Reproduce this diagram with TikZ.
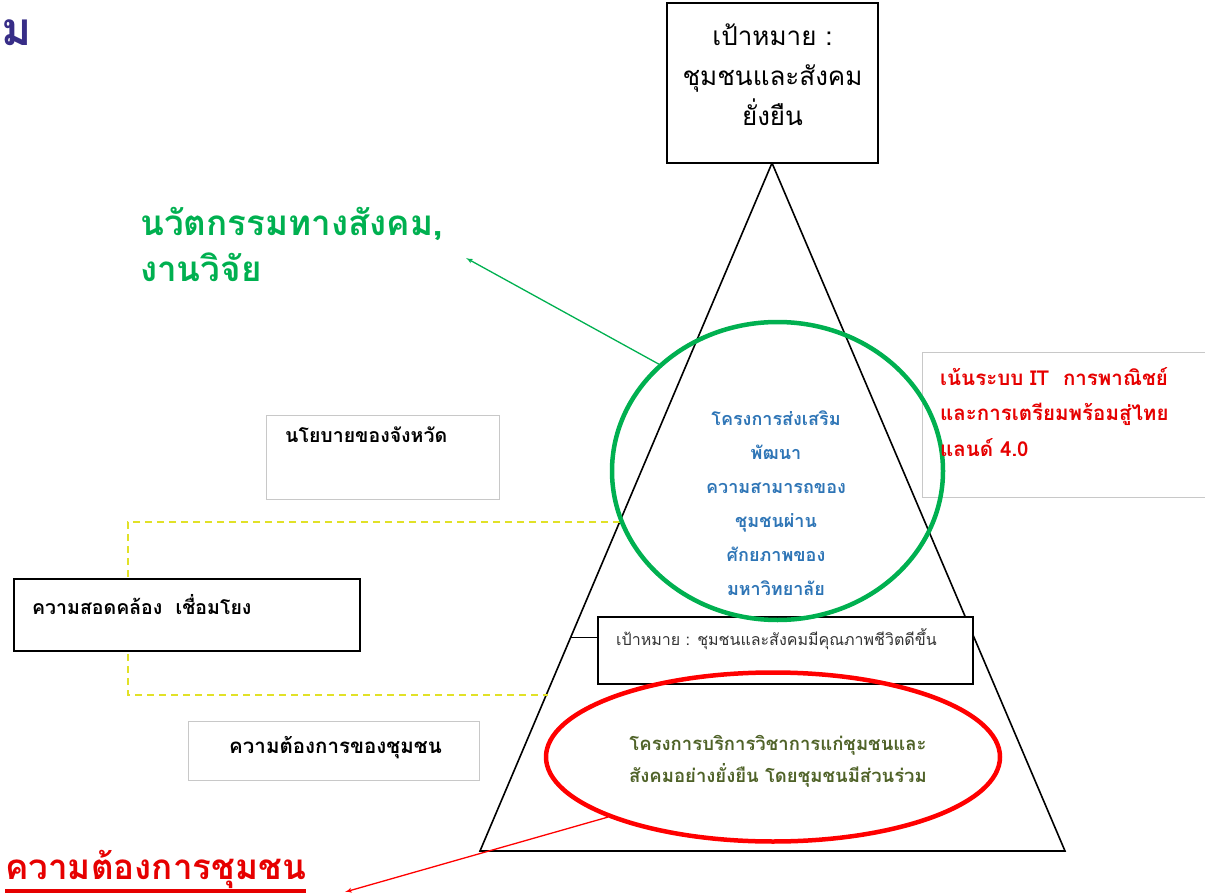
\documentclass[tikz,border=0pt]{standalone}
\usepackage{fontspec}
\newfontfamily\thaifont[Script=Thai]{Loma}
\usetikzlibrary{arrows,shapes,positioning,calc}
\definecolor{innogreen}{RGB}{0,176,80}
\definecolor{projblue}{RGB}{46,117,182}
\definecolor{servolive}{RGB}{79,98,40}
\definecolor{titleblue}{RGB}{55,45,135}
\definecolor{linkyellow}{RGB}{225,225,40}
\definecolor{noteline}{RGB}{200,200,200}
\definecolor{notered}{RGB}{230,0,0}
\tikzset{
goalbox/.style = {draw, line width=1.8pt, fill=white, rectangle, inner sep=0pt},
notebox/.style = {draw=noteline, line width=0.8pt, fill=white, rectangle, inner sep=0pt},
ring/.style = {draw, ellipse, line width=4.5pt, inner sep=0pt},
linkdash/.style = {dash pattern=on 7pt off 5pt, draw=linkyellow, line width=1.2pt},
txt/.style = {inner sep=0pt, align=center},
tmp/.style = {coordinate}
}

\begin{document}
\begin{tikzpicture}[x=1pt, y=-1pt, >=latex']
  \useasboundingbox (0,0) rectangle (1205,896);
  \coordinate (apex)     at (772,163);
  \coordinate (bl)       at (480,851);
  \coordinate (br)       at (1065,851);
  \coordinate (linktop)  at (620,522);
  \coordinate (linkleft) at (128,522);
  \coordinate (linkbot)  at (548,695);
  \coordinate (innotip)  at (466,258);
  \coordinate (needtip)  at (345,892);
  \coordinate (tick)     at ($(apex)!0.69!(bl)$);

  \draw [line width=1.6pt] (apex) -- (bl) -- (br) -- cycle;
  \draw [linkdash] (linktop) -- (linkleft) -- (linkleft |- linkbot) -- (linkbot);

  \node [goalbox, minimum width=211pt, minimum height=160pt]  (goaltop)  at (772.5,83)  {};
  \node [notebox, minimum width=290pt, minimum height=145pt]  (itbox)    at (1067,424.5) {};
  \node [notebox, minimum width=233pt, minimum height=84pt]   (policy)   at (382.5,457)  {};
  \node [goalbox, minimum width=346pt, minimum height=72pt]   (align)    at (187,615)    {};
  \node [notebox, minimum width=291pt, minimum height=59pt]   (needbox)  at (333.5,750.5) {};
  \node [goalbox, minimum width=375pt, minimum height=67pt]   (goalmid)  at (785.5,650.5) {};
  \draw [line width=1.4pt] (tick) -- (tick -| goalmid.west);

  \node [ring, draw=innogreen, minimum width=331pt, minimum height=298pt] (inno) at (777.5,471) {};
  \node [ring, draw=red, minimum width=454pt, minimum height=169pt]       (serv) at (773,757)   {};

  \node [txt, font=\thaifont\fontsize{26}{40}\selectfont] (goaltxt) at (772.5,75)
        {เป้าหมาย :\\ชุมชนและสังคม\\ยั่งยืน};
  \node [txt, text=projblue, font=\thaifont\bfseries\fontsize{18}{34}\selectfont] (promote) at (776,503)
        {โครงการส่งเสริม\\พัฒนา\\ความสามารถของ\\ชุมชนผ่าน\\ศักยภาพของ\\มหาวิทยาลัย};
  \node [txt, anchor=north west, align=left, text=notered, font=\thaifont\bfseries\fontsize{20.5}{35.5}\selectfont] (ittxt) at (940,367)
        {เน้นระบบ IT\ \ การพาณิชย์\\และการเตรียมพร้อมสู่ไทย\\แลนด์ 4.0};
  \node [txt, anchor=north west, font=\thaifont\bfseries\fontsize{19.5}{22}\selectfont] (policytxt) at (285,427) {นโยบายของจังหวัด};
  \node [txt, anchor=north west, font=\thaifont\bfseries\fontsize{19.5}{22}\selectfont] (aligntxt) at (32,594) {ความสอดคล้อง\ \ เชื่อมโยง};
  \node [txt, font=\thaifont\bfseries\fontsize{20.5}{22}\selectfont] (needboxtxt) at (335.5,748) {ความต้องการของชุมชน};
  \node [txt, anchor=west, text=black!80, font=\thaifont\fontsize{16}{20}\selectfont] (goalmidtxt) at (616,639) {เป้าหมาย : ชุมชนและสังคมมีคุณภาพชีวิตดีขึ้น};
  \node [txt, text=servolive, font=\thaifont\bfseries\fontsize{18.5}{32}\selectfont] (servtxt) at (778,761)
        {โครงการบริการวิชาการแก่ชุมชนและ\\สังคมอย่างยั่งยืน โดยชุมชนมีส่วนร่วม};

  \node [txt, anchor=north west, align=left, text=innogreen, font=\thaifont\bfseries\fontsize{35}{46}\selectfont] (innotxt) at (140,207)
        {นวัตกรรมทางสังคม,\\งานวิจัย};
  \node [txt, anchor=south west, text=notered, font=\thaifont\bfseries\fontsize{35}{46}\selectfont] (needtxt) at (5,889) {ความต้องการชุมชน};
  \draw [notered, line width=3.5pt] ([yshift=-2pt]needtxt.south west) -- ([yshift=-2pt]needtxt.south east);
  \node [txt, anchor=east, text=titleblue, font=\thaifont\bfseries\fontsize{46}{50}\selectfont] (title) at (32,33) {ม};

  \draw [->, innogreen, line width=1.3pt] (inno.138) -- (innotip);
  \draw [->, red, line width=1.3pt] (serv.200) -- (needtip);
\end{tikzpicture}
\end{document}
